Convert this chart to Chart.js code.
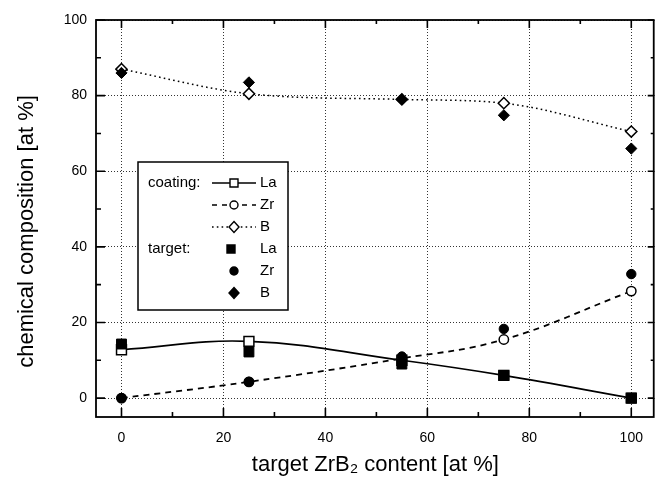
<!DOCTYPE html>
<html>
<head>
<meta charset="utf-8">
<script src="https://cdn.jsdelivr.net/npm/chart.js"></script>
<style>
  html, body { margin: 0; padding: 0; background: #fff; }
</style>
</head>
<body>
<canvas id="chart" width="656" height="478"></canvas>
<script>
// target ZrB2 content [at %]
const zrb2Content = [0, 25, 55, 75, 100];

// coating composition (open symbols + fitted lines)
const coatingLa = [12.8, 15, 10, 6, 0];
const coatingZr = [0, 4.3, 10.5, 15.5, 28.3];
const coatingB = [87, 80.5, 79, 78, 70.5];

// target composition (filled symbols)
const targetLa = [14.3, 12.2, 9, 6, 0];
const targetZr = [0, 4.3, 11, 18.3, 32.8];
const targetB = [86, 83.5, 79, 74.8, 66];

const xTicks = [0, 20, 40, 60, 80, 100];
const yTicks = [0, 20, 40, 60, 80, 100];
const minorTicks = [10, 30, 50, 70, 90];

const yTitle = "chemical composition [at %]";
const xTitle = "target ZrB\u2082 content [at %]";

const FONT = "'Liberation Sans', Arial, Helvetica, sans-serif";

const pts = (ys) => zrb2Content.map((x, i) => ({ x: x, y: ys[i] }));

// targets first so they sit on top (dataset 0 is drawn last)
const datasets = [
  { label: "target La", data: pts(targetLa), pointStyle: "rect", pointRadius: 7,
    backgroundColor: "#000", borderColor: "#000", showLine: false },
  { label: "target Zr", data: pts(targetZr), pointStyle: "circle", pointRadius: 4.7,
    backgroundColor: "#000", borderColor: "#000", showLine: false },
  { label: "target B", data: pts(targetB), pointStyle: "rectRot", pointRadius: 5.6,
    backgroundColor: "#000", borderColor: "#000", showLine: false },
  { label: "coating La", data: pts(coatingLa), pointStyle: "rect", pointRadius: 7,
    backgroundColor: "#fff", borderColor: "#000", pointBorderWidth: 1.5,
    showLine: true, borderWidth: 1.6, tension: 0.4 },
  { label: "coating Zr", data: pts(coatingZr), pointStyle: "circle", pointRadius: 4.7,
    backgroundColor: "#fff", borderColor: "#000", pointBorderWidth: 1.5,
    showLine: true, borderWidth: 1.8, borderDash: [6, 5], tension: 0.4 },
  { label: "coating B", data: pts(coatingB), pointStyle: "rectRot", pointRadius: 5.6,
    backgroundColor: "#fff", borderColor: "#000", pointBorderWidth: 1.5,
    showLine: true, borderWidth: 1.5, borderDash: [1.6, 3.2], cubicInterpolationMode: "monotone" },
];

function marker(ctx, style, filled, x, y, r) {
  ctx.save();
  ctx.setLineDash([]);
  ctx.lineWidth = 1.4;
  ctx.strokeStyle = "#000";
  ctx.fillStyle = filled ? "#000" : "#fff";
  ctx.beginPath();
  if (style === "rect") {
    ctx.rect(x - r, y - r, 2 * r, 2 * r);
  } else if (style === "circle") {
    ctx.arc(x, y, r, 0, Math.PI * 2);
  } else {
    ctx.moveTo(x, y - r - 0.5); ctx.lineTo(x + r, y); ctx.lineTo(x, y + r + 0.5); ctx.lineTo(x - r, y); ctx.closePath();
  }
  ctx.fill();
  ctx.stroke();
  ctx.restore();
}

const framePlugin = {
  id: "frame",
  afterDraw(chart) {
    const { ctx, chartArea: ca, scales } = chart;
    ctx.save();
    ctx.strokeStyle = "#000";
    ctx.setLineDash([]);
    ctx.lineWidth = 1.8;
    ctx.strokeRect(ca.left, ca.top, ca.right - ca.left - 1, ca.bottom - ca.top);
    ctx.lineWidth = 1.6;
    ctx.beginPath();
    xTicks.forEach(v => {
      const px = scales.x.getPixelForValue(v);
      ctx.moveTo(px, ca.bottom); ctx.lineTo(px, ca.bottom - 9);
      ctx.moveTo(px, ca.top); ctx.lineTo(px, ca.top + 8);
    });
    minorTicks.forEach(v => {
      const px = scales.x.getPixelForValue(v);
      ctx.moveTo(px, ca.bottom); ctx.lineTo(px, ca.bottom - 5);
      ctx.moveTo(px, ca.top); ctx.lineTo(px, ca.top + 4);
    });
    yTicks.forEach(v => {
      const py = scales.y.getPixelForValue(v);
      ctx.moveTo(ca.left, py); ctx.lineTo(ca.left + 9, py);
      ctx.moveTo(ca.right - 1, py); ctx.lineTo(ca.right - 7, py);
    });
    minorTicks.forEach(v => {
      const py = scales.y.getPixelForValue(v);
      ctx.moveTo(ca.left, py); ctx.lineTo(ca.left + 5, py);
      ctx.moveTo(ca.right - 1, py); ctx.lineTo(ca.right - 4, py);
    });
    ctx.stroke();

    // y axis title (sits a little below the plot centre in the original)
    ctx.save();
    ctx.font = "22px " + FONT;
    ctx.fillStyle = "#000";
    ctx.textAlign = "center";
    ctx.textBaseline = "alphabetic";
    ctx.translate(33, (ca.top + ca.bottom) / 2 + 13);
    ctx.rotate(-Math.PI / 2);
    ctx.fillText(yTitle, 0, 0);
    ctx.restore();

    // legend box
    const bx = ca.left + 42, by = ca.top + 142, bw = 150, bh = 148;
    ctx.fillStyle = "#fff";
    ctx.fillRect(bx, by, bw, bh);
    ctx.lineWidth = 1.5;
    ctx.strokeRect(bx, by, bw, bh);

    ctx.font = "15px " + FONT;
    ctx.fillStyle = "#000";
    ctx.textBaseline = "middle";
    const rows = [
      { head: "coating:", name: "La", style: "rect", filled: false, dash: [] },
      { head: "", name: "Zr", style: "circle", filled: false, dash: [5, 5] },
      { head: "", name: "B", style: "rectRot", filled: false, dash: [1.6, 3.2] },
      { head: "target:", name: "La", style: "rect", filled: true },
      { head: "", name: "Zr", style: "circle", filled: true },
      { head: "", name: "B", style: "rectRot", filled: true },
    ];
    rows.forEach((r, i) => {
      const y = by + 21 + i * 22;
      if (r.head) ctx.fillText(r.head, bx + 10, y);
      if (r.dash) {
        ctx.save();
        ctx.lineWidth = 1.5;
        ctx.setLineDash(r.dash);
        ctx.beginPath();
        ctx.moveTo(bx + 74, y); ctx.lineTo(bx + 118, y);
        ctx.stroke();
        ctx.restore();
      }
      const rad = r.style === "rectRot" ? 5 : 4;
      marker(ctx, r.style, r.filled, r.filled && r.style === "rect" ? bx + 93 : bx + 96, y, rad);
      ctx.fillText(r.name, bx + 122, y);
    });
    ctx.restore();
  }
};

new Chart(document.getElementById("chart"), {
  type: "scatter",
  data: { datasets: datasets },
  options: {
    responsive: false,
    devicePixelRatio: 1,
    animation: false,
    layout: { autoPadding: false, padding: { top: 20, right: 1, left: 0, bottom: 0 } },
    plugins: { legend: { display: false }, tooltip: { enabled: false } },
    elements: { point: { hoverRadius: 0 } },
    scales: {
      x: {
        type: "linear",
        min: -5,
        max: 104.6,
        afterBuildTicks: (s) => { s.ticks = xTicks.map(v => ({ value: v })); },
        afterFit: (s) => { s.height = 61; },
        grid: { color: "#000", lineWidth: 0.8, drawTicks: false },
        border: { display: false, dash: [1, 2] },
        ticks: { color: "#000", padding: 13, font: { family: FONT, size: 14 } },
        title: {
          display: true,
          text: xTitle,
          color: "#000",
          font: { family: FONT, size: 22 },
          padding: { top: 0, bottom: 0 }
        }
      },
      y: {
        type: "linear",
        min: -5,
        max: 100,
        afterBuildTicks: (s) => { s.ticks = yTicks.map(v => ({ value: v })); },
        afterFit: (s) => { s.width = 96; },
        grid: { color: "#000", lineWidth: 0.8, drawTicks: false },
        border: { display: false, dash: [1, 2] },
        ticks: { color: "#000", padding: 9, font: { family: FONT, size: 14 } },
        title: { display: false }
      }
    }
  },
  plugins: [framePlugin]
});
</script>
</body>
</html>
